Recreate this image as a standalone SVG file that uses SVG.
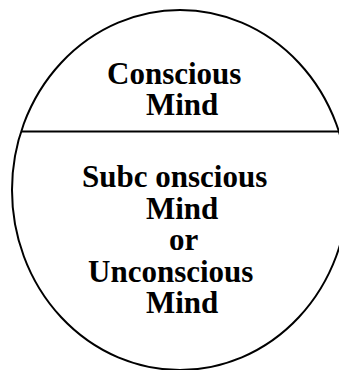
<svg xmlns="http://www.w3.org/2000/svg" width="339" height="370" viewBox="0 0 339 370">
<style>
.t{font-family:"Liberation Serif","Times New Roman",serif;font-weight:bold;font-size:31px;fill:#000}
.s{fill:none;stroke:#000;stroke-width:2}
</style>
<rect width="339" height="370" fill="#fff"/>
<g id="mind">
<ellipse class="s" cx="180" cy="190" rx="168" ry="180"/>
</g>
<g id="connectors">
<line class="s" x1="21" y1="131.5" x2="339" y2="131.5"/>
</g>
<g id="conscious">
<text class="t" x="107" y="84">Conscious</text>
<text class="t" x="146" y="115">Mind</text>
</g>
<g id="subconscious">
<text class="t" x="82" y="187">Subc onscious</text>
<text class="t" x="146" y="219">Mind</text>
<text class="t" x="169" y="250">or</text>
<text class="t" x="88" y="282">Unconscious</text>
<text class="t" x="146" y="313">Mind</text>
</g>
</svg>
